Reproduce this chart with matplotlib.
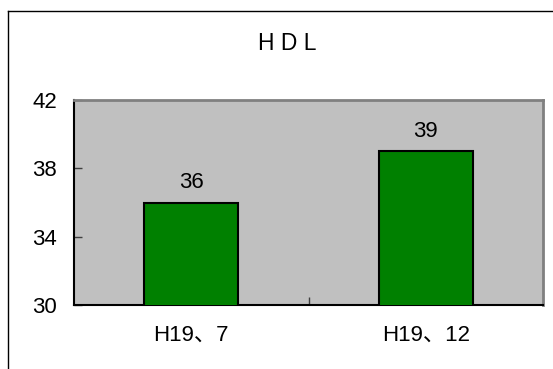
import matplotlib
matplotlib.use("Agg")
import matplotlib.pyplot as plt
from matplotlib.lines import Line2D

plt.rcParams['font.family'] = ['Liberation Sans', 'Noto Sans CJK JP']

# Data
categories = ["H19、7", "H19、12"]
values = [36, 39]
y_ticks = [30, 34, 38, 42]
title = "H D L"

W, H = 553, 369
fig = plt.figure(figsize=(W / 100, H / 100), dpi=100)

# outer chart frame (left and top edges)
fig.add_artist(Line2D([8 / W, 8 / W], [0, 1 - 11 / H], transform=fig.transFigure,
                      color="black", lw=1.0))
fig.add_artist(Line2D([8 / W, 1], [1 - 11 / H, 1 - 11 / H], transform=fig.transFigure,
                      color="black", lw=1.0))

left, right, top, bottom = 74, 543, 100, 305
ax = fig.add_axes([left / W, 1 - bottom / H, (right - left) / W, (bottom - top) / H])
ax.set_facecolor("#C0C0C0")

x = list(range(len(categories)))
bars = ax.bar(x, values, width=0.4, color="#008000", edgecolor="black", linewidth=1.5,
              zorder=3)
for xi, v in zip(x, values):
    ax.annotate(f"{v}", (xi, v), xytext=(0, 10.5), textcoords="offset points",
                ha="center", va="baseline", fontsize=16)

ax.set_xlim(-0.5, len(categories) - 0.5)
ax.set_ylim(y_ticks[0], y_ticks[-1])
ax.set_yticks(y_ticks)
ax.tick_params(axis="y", direction="in", length=6, width=1, color="#404040",
               labelsize=16, pad=12)

ax.set_xticks(x)
ax.set_xticklabels(categories)
ax.tick_params(axis="x", which="major", length=0, labelsize=16, pad=14)
ax.set_xticks([i + 0.5 for i in x[:-1]], minor=True)
ax.tick_params(axis="x", which="minor", direction="in", length=6, width=1, color="#404040")

for side in ("left", "bottom"):
    ax.spines[side].set_color("black")
    ax.spines[side].set_linewidth(1.5)
for side in ("top", "right"):
    ax.spines[side].set_color("#808080")
    ax.spines[side].set_linewidth(2)

fig.text(287 / W, 1 - 44 / H, title, ha="center", va="center", fontsize=16.5)

fig.savefig("out.png", dpi=100)
